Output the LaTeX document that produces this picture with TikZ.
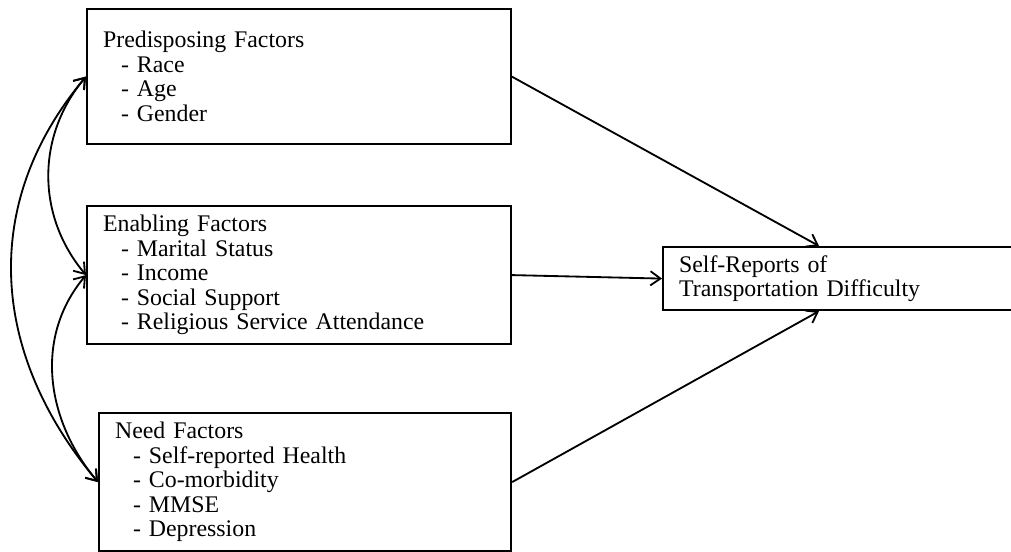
\documentclass[tikz,border=0pt]{standalone}
\usepackage{fontspec}
\setmainfont{Liberation Serif}[WordSpace=1.5]
\usepackage{tikz}
\usetikzlibrary{arrows.meta,positioning,calc}
\newcommand{\fitem}{\hspace*{10.8pt}- }
\tikzset{
  factor/.style={draw,line width=1.3pt,anchor=north west,align=left,
    inner xsep=9.6pt,font=\fontsize{14.3}{14.7}\selectfont},
  arrow/.style={-{Straight Barb[length=6pt,width=8.5pt]},line width=1.1pt},
  corr/.style={{Straight Barb[length=6pt,width=8.5pt]}-{Straight Barb[length=6pt,width=8.5pt]},
    line width=1.1pt}
}

\begin{document}
\begin{tikzpicture}[x=0.6pt,y=0.6pt]
          \useasboundingbox (0,0) rectangle (1011,-551);
          \node[factor,text width=235pt,minimum height=81pt] (predisp) at (86,-8)
            {Predisposing Factors\\\fitem Race\\\fitem Age\\\fitem Gender};
          \node[factor,text width=235pt,minimum height=82.8pt] (enabling) at (86,-205)
            {Enabling Factors\\\fitem Marital Status\\\fitem Income\\\fitem Social Support\\\fitem Religious Service Attendance};
          \node[factor,text width=228pt,minimum height=82.8pt] (need) at (98,-412)
            {Need Factors\\\fitem Self-reported Health\\\fitem Co-morbidity\\\fitem MMSE\\\fitem Depression};
          \node[factor,text width=191pt,minimum height=37.8pt] (outcome) at (662,-246)
            {Self-Reports of\\Transportation Difficulty};
          \draw[arrow] (predisp.east) -- ($(outcome.north west)+(157,0)$);
          \draw[arrow] (enabling.east) -- (outcome.west);
          \draw[arrow] (need.east) -- ($(outcome.south west)+(157,0)$);
          \draw[corr] (predisp.west) to[out=230,in=130] (enabling.west);
          \draw[corr] (enabling.west) to[out=230,in=130] (need.west);
          \draw[corr] (predisp.west) to[out=230,in=130,looseness=1.05] (need.west);
        \end{tikzpicture}
\end{document}
